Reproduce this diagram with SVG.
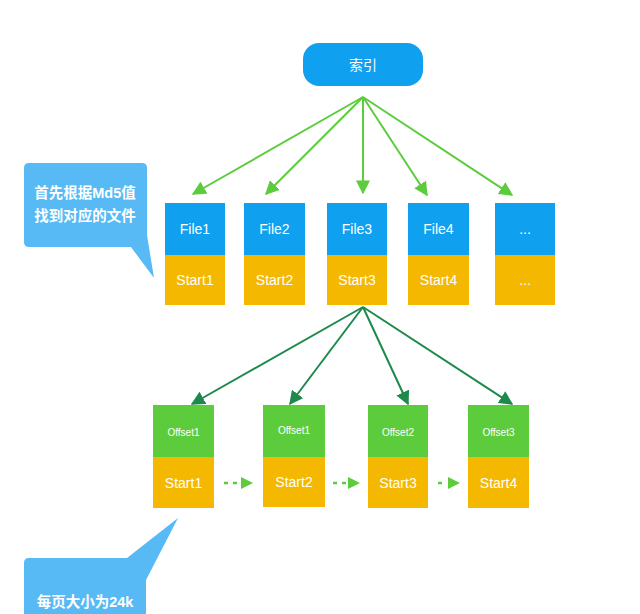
<svg xmlns="http://www.w3.org/2000/svg" width="640" height="614" viewBox="0 0 640 614">
<style>
.t{font-family:"Liberation Sans","Noto Sans CJK SC",sans-serif;fill:#fff;text-anchor:middle;}
.b{fill:#10a0f0;}
.o{fill:#f5b800;}
.g{fill:#5ccc3c;}
.c{fill:#58baf4;}
.la{stroke:#5ccc3c;stroke-width:2;fill:none;marker-end:url(#ml);}
.da{stroke:#1d8a4c;stroke-width:2;fill:none;marker-end:url(#md);}
.ds{stroke:#5ccc3c;stroke-width:2.5;fill:none;stroke-dasharray:4 5;}
</style>
<defs>
<marker id="ml" viewBox="0 0 10 10" refX="9" refY="5" markerWidth="7" markerHeight="7" orient="auto" markerUnits="strokeWidth"><path d="M0,0 L10,5 L0,10 Z" fill="#5ccc3c"/></marker>
<marker id="md" viewBox="0 0 10 10" refX="9" refY="5" markerWidth="7" markerHeight="7" orient="auto" markerUnits="strokeWidth"><path d="M0,0 L10,5 L0,10 Z" fill="#1d8a4c"/></marker>
</defs>
<rect width="640" height="614" fill="#fff"/>
<g id="connectors">
<line class="la" x1="363" y1="97" x2="193" y2="194"/>
<line class="la" x1="363" y1="97" x2="266" y2="194"/>
<line class="la" x1="363" y1="97" x2="363" y2="193"/>
<line class="la" x1="363" y1="97" x2="427" y2="195"/>
<line class="la" x1="363" y1="97" x2="512" y2="195"/>
<line class="da" x1="363" y1="307" x2="192" y2="404"/>
<line class="da" x1="363" y1="307" x2="290" y2="404"/>
<line class="da" x1="363" y1="307" x2="408" y2="404"/>
<line class="da" x1="363" y1="307" x2="512" y2="404"/>
<line class="ds" x1="224" y1="483" x2="241" y2="483"/>
<path d="M241,477 L253,483 L241,489 Z" fill="#5ccc3c"/>
<line class="ds" x1="333" y1="483" x2="350" y2="483"/>
<path d="M348,477 L360,483 L348,489 Z" fill="#5ccc3c"/>
<line class="ds" x1="438" y1="483" x2="446" y2="483"/>
<path d="M448,477 L460,483 L448,489 Z" fill="#5ccc3c"/>
</g>
<g id="index">
<rect x="303" y="43" width="120" height="43" rx="16" class="b"/>
<text x="363" y="70" class="t" font-size="14">索引</text>
</g>
<g id="file1">
<rect x="165" y="203" width="60" height="52" class="b"/>
<rect x="165" y="255" width="60" height="50" class="o"/>
<text x="195" y="234" class="t" font-size="14">File1</text>
<text x="195" y="285" class="t" font-size="14">Start1</text>
</g>
<g id="file2">
<rect x="244" y="203" width="61" height="52" class="b"/>
<rect x="244" y="255" width="61" height="50" class="o"/>
<text x="274.5" y="234" class="t" font-size="14">File2</text>
<text x="274.5" y="285" class="t" font-size="14">Start2</text>
</g>
<g id="file3">
<rect x="327" y="203" width="60" height="52" class="b"/>
<rect x="327" y="255" width="60" height="50" class="o"/>
<text x="357" y="234" class="t" font-size="14">File3</text>
<text x="357" y="285" class="t" font-size="14">Start3</text>
</g>
<g id="file4">
<rect x="408" y="203" width="61" height="52" class="b"/>
<rect x="408" y="255" width="61" height="50" class="o"/>
<text x="438.5" y="234" class="t" font-size="14">File4</text>
<text x="438.5" y="285" class="t" font-size="14">Start4</text>
</g>
<g id="file5">
<rect x="495" y="203" width="60" height="52" class="b"/>
<rect x="495" y="255" width="60" height="50" class="o"/>
<text x="525" y="234" class="t" font-size="14">...</text>
<text x="525" y="285" class="t" font-size="14">...</text>
</g>
<g id="page1">
<rect x="153" y="405" width="61" height="52" class="g"/>
<rect x="153" y="457" width="61" height="51" class="o"/>
<text x="183.5" y="436" class="t" font-size="10">Offset1</text>
<text x="183.5" y="488" class="t" font-size="14">Start1</text>
</g>
<g id="page2">
<rect x="263" y="405" width="62" height="52" class="g"/>
<rect x="263" y="457" width="62" height="50" class="o"/>
<text x="294" y="434" class="t" font-size="10">Offset1</text>
<text x="294" y="487" class="t" font-size="14">Start2</text>
</g>
<g id="page3">
<rect x="368" y="405" width="60" height="52" class="g"/>
<rect x="368" y="457" width="60" height="51" class="o"/>
<text x="398" y="436" class="t" font-size="10">Offset2</text>
<text x="398" y="488" class="t" font-size="14">Start3</text>
</g>
<g id="page4">
<rect x="468" y="405" width="61" height="52" class="g"/>
<rect x="468" y="457" width="61" height="51" class="o"/>
<text x="498.5" y="436" class="t" font-size="10">Offset3</text>
<text x="498.5" y="488" class="t" font-size="14">Start4</text>
</g>
<g id="callout1">
<path d="M29,163 H142 Q147,163 147,168 V235 L154,278 L131,247 H29 Q24,247 24,242 V168 Q24,163 29,163 Z" class="c"/>
<text x="85" y="198" class="t" font-size="14.5" font-weight="bold">首先根据Md5值</text>
<text x="85" y="221" class="t" font-size="14.5" font-weight="bold">找到对应的文件</text>
</g>
<g id="callout2">
<path d="M29,558 H127 L178,518 L146,580 V614 H24 V563 Q24,558 29,558 Z" class="c"/>
<text x="85" y="607" class="t" font-size="14.5" font-weight="bold">每页大小为24k</text>
</g>
</svg>
